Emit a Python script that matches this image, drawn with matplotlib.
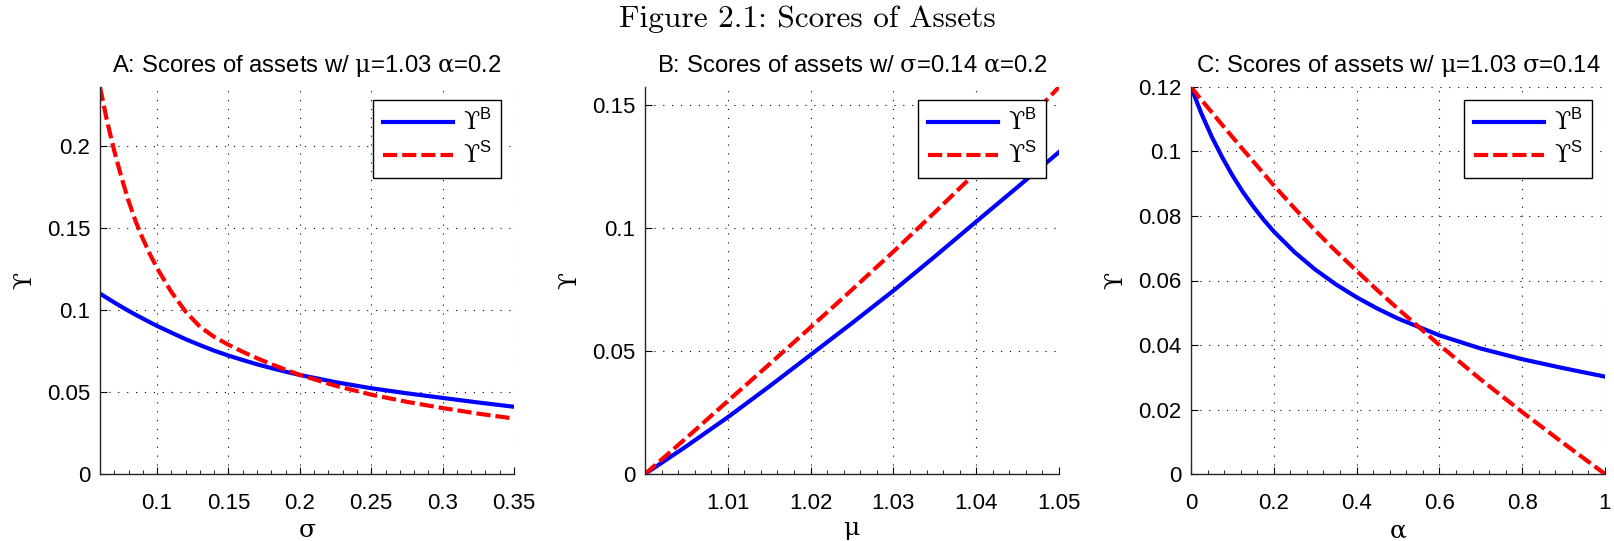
import matplotlib
matplotlib.use('Agg')
import matplotlib.pyplot as plt
from matplotlib.ticker import AutoMinorLocator

plt.rcParams['font.family'] = ['Liberation Sans', 'DejaVu Sans']
plt.rcParams['mathtext.fontset'] = 'custom'
plt.rcParams['mathtext.rm'] = 'DejaVu Serif'
plt.rcParams['mathtext.sf'] = 'Liberation Sans'

# panel A: scores against sigma (mu=1.03, alpha=0.2)
sigma = [0.06, 0.065, 0.07, 0.075, 0.08, 0.085, 0.09, 0.095, 0.10, 0.11, 0.12, 0.13,
         0.14, 0.15, 0.16, 0.17, 0.18, 0.19, 0.20, 0.225, 0.25, 0.275, 0.30, 0.325, 0.35]
score_b_sigma = [0.1100, 0.1073, 0.1046, 0.1020, 0.0995, 0.0971, 0.0948, 0.0925, 0.0903,
                 0.0862, 0.0822, 0.0786, 0.0752, 0.0722, 0.0695, 0.0669, 0.0646, 0.0624,
                 0.0604, 0.0560, 0.0523, 0.0492, 0.0464, 0.0436, 0.0410]
score_s_sigma = [0.236, 0.215, 0.197, 0.181, 0.1665, 0.154, 0.1435, 0.134, 0.1255,
                 0.1110, 0.0990, 0.0898, 0.0836, 0.0788, 0.0745, 0.0706, 0.0670, 0.0636,
                 0.0604, 0.0538, 0.0484, 0.0440, 0.0402, 0.0368, 0.0338]

# panel B: scores against mu (sigma=0.14, alpha=0.2)
mu = [1.0, 1.005, 1.01, 1.015, 1.02, 1.025, 1.03, 1.035, 1.04, 1.045, 1.05]
score_b_mu = [0.0, 0.0113, 0.0231, 0.0356, 0.0485, 0.0614, 0.0746, 0.0885, 0.1027, 0.1168, 0.1310]
score_s_mu = [0.0, 0.0147, 0.0297, 0.0446, 0.0597, 0.0750, 0.0905, 0.1065, 0.1228, 0.1398, 0.1575]

# panel C: scores against alpha (mu=1.03, sigma=0.14)
alpha = [0.0, 0.025, 0.05, 0.075, 0.1, 0.125, 0.15, 0.175, 0.2, 0.25, 0.3, 0.35, 0.4,
         0.45, 0.5, 0.6, 0.7, 0.8, 0.9, 1.0]
score_b_alpha = [0.1200, 0.1118, 0.1046, 0.0983, 0.0926, 0.0875, 0.0830, 0.0789, 0.0752,
                 0.0688, 0.0634, 0.0588, 0.0548, 0.0513, 0.0482, 0.0430, 0.0389, 0.0356,
                 0.0328, 0.0302]
score_s_alpha = [0.1200, 0.1160, 0.1122, 0.1083, 0.1045, 0.1007, 0.0970, 0.0932, 0.0895,
                 0.0824, 0.0755, 0.0691, 0.0630, 0.0570, 0.0512, 0.0400, 0.0293, 0.0192,
                 0.0095, 0.0]

titles = ['A: Scores of assets w/ $\\mathrm{μ}$=1.03 $\\mathrm{α}$=0.2',
          'B: Scores of assets w/ $\\mathrm{σ}$=0.14 $\\mathrm{α}$=0.2',
          'C: Scores of assets w/ $\\mathrm{μ}$=1.03 $\\mathrm{σ}$=0.14']
xlabels = ['$\\mathrm{σ}$', '$\\mathrm{μ}$', '$\\mathrm{α}$']

xticks_a = [0.1, 0.15, 0.2, 0.25, 0.3, 0.35]
xticklabels_a = ['0.1', '0.15', '0.2', '0.25', '0.3', '0.35']
yticks_a = [0, 0.05, 0.1, 0.15, 0.2]
yticklabels_a = ['0', '0.05', '0.1', '0.15', '0.2']

xticks_b = [1.01, 1.02, 1.03, 1.04, 1.05]
xticklabels_b = ['1.01', '1.02', '1.03', '1.04', '1.05']
yticks_b = [0, 0.05, 0.1, 0.15]
yticklabels_b = ['0', '0.05', '0.1', '0.15']

xticks_c = [0, 0.2, 0.4, 0.6, 0.8, 1.0]
xticklabels_c = ['0', '0.2', '0.4', '0.6', '0.8', '1']
yticks_c = [0, 0.02, 0.04, 0.06, 0.08, 0.1, 0.12]
yticklabels_c = ['0', '0.02', '0.04', '0.06', '0.08', '0.1', '0.12']

W, H = 1614, 541
fig = plt.figure(figsize=(W / 100, H / 100), dpi=100)

lefts = [100, 645, 1191]
panels = [
    (sigma, score_b_sigma, score_s_sigma, (0.06, 0.35), (0, 0.236),
     xticks_a, xticklabels_a, yticks_a, yticklabels_a),
    (mu, score_b_mu, score_s_mu, (1.0, 1.05), (0, 0.1575),
     xticks_b, xticklabels_b, yticks_b, yticklabels_b),
    (alpha, score_b_alpha, score_s_alpha, (0, 1), (0, 0.12),
     xticks_c, xticklabels_c, yticks_c, yticklabels_c),
]

for i, (x, yb, ys, xl, yl, xt, xtl, yt, ytl) in enumerate(panels):
    ax = fig.add_axes([lefts[i] / W, 67 / H, 414 / W, 387 / H])
    ax.plot(x, yb, color='#0000ff', lw=3, label='$\\mathrm{ϒ}^{\\mathsf{B}}$')
    ax.plot(x, ys, color='#ff0000', lw=3, dashes=(3.4, 1.2),
            label='$\\mathrm{ϒ}^{\\mathsf{S}}$')
    ax.set_xlim(xl)
    ax.set_ylim(yl)
    ax.set_xticks(xt)
    ax.set_xticklabels(xtl)
    ax.set_yticks(yt)
    ax.set_yticklabels(ytl)
    ax.xaxis.set_minor_locator(AutoMinorLocator(5))
    ax.tick_params(direction='in', labelsize=16, length=5, width=0.8)
    ax.tick_params(axis='x', pad=14)
    ax.tick_params(axis='y', pad=7)
    ax.tick_params(which='minor', direction='in', length=3, width=0.6)
    ax.grid(True, color='black', lw=0.8, linestyle=(0, (1, 7)))
    for side in ['top', 'right']:
        ax.spines[side].set_visible(False)
    for side in ['left', 'bottom']:
        ax.spines[side].set_linewidth(1.0)
        ax.spines[side].set_color('#262626')
    ax.set_title(titles[i], fontsize=17.2, pad=11)
    ax.set_xlabel(xlabels[i], fontsize=18, va='center')
    ax.xaxis.set_label_coords(0.5, -0.145)
    ax.set_ylabel('$\\mathrm{ϒ}$', fontsize=18, labelpad=7)
    leg = ax.legend(loc='upper right', fontsize=17, frameon=True, fancybox=False,
                    framealpha=1, edgecolor='black', handlelength=3.0,
                    handletextpad=0.4, labelspacing=0.3, borderaxespad=0.55,
                    borderpad=0.4)
    leg.get_frame().set_linewidth(1.0)

fig.text(0.5, 1 - 19 / H, 'Figure 2.1: Scores of Assets', family='cmr10',
         fontsize=22.6, ha='center', va='center')

fig.savefig('out.png', dpi=100)
